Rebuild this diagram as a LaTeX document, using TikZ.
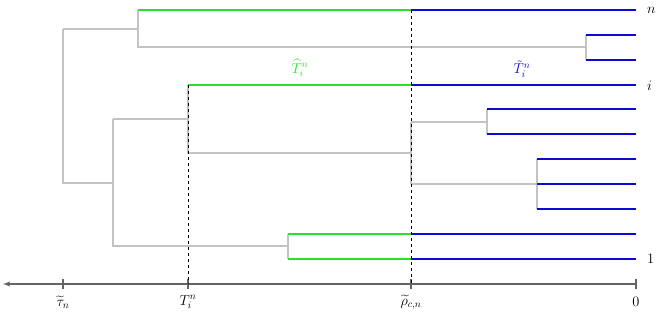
\documentclass[tikz,border=0pt]{standalone}
\usepackage{amsmath}
\definecolor{brgreen}{RGB}{40,225,40}
\definecolor{brblue}{RGB}{10,10,210}
\definecolor{brgray}{RGB}{195,195,195}
\definecolor{axgray}{RGB}{100,100,100}
\begin{document}
\begin{tikzpicture}[x=1pt,y=-1pt,
  gbr/.style={brgray,line width=1.1pt},
  grn/.style={brgreen,line width=1.5pt},
  blu/.style={brblue,line width=1.5pt},
  dsh/.style={black,dashed,line width=0.9pt},
  axis/.style={axgray,line width=1.3pt},
  lbl/.style={inner sep=0pt,font=\fontsize{14}{16}\selectfont}]
\useasboundingbox (0,0) rectangle (664,321);
% leaf ends
\foreach \nm/\yy in {Ln/10,La/35,Lb/60,Li/85,Lc/109,Ld/134,Le/159,Lf/184,Lg/209,Lh/234,Lo/259}
  {\coordinate (\nm) at (636,\yy);}
% internal coordinates
\coordinate (Sn) at (138,10);
\coordinate (Sn2) at (411,10);
\coordinate (Pab) at (586,47);
\coordinate (Sa) at (586,35);
\coordinate (Sb) at (586,60);
\coordinate (Qab) at (138,47);
\coordinate (Rn) at (138,29);
\coordinate (Root) at (63,29);
\coordinate (RootB) at (63,183);
\coordinate (J) at (113,183);
\coordinate (Si) at (188,85);
\coordinate (Si2) at (411,85);
\coordinate (Pcd) at (487,122);
\coordinate (Sc) at (487,109);
\coordinate (Sd) at (487,134);
\coordinate (Qcd) at (411,122);
\coordinate (Pefg) at (537,184);
\coordinate (Se) at (537,159);
\coordinate (Sg) at (537,209);
\coordinate (Qefg) at (411,184);
\coordinate (Qmid) at (411,153);
\coordinate (Pmid) at (188,153);
\coordinate (Ki) at (188,119);
\coordinate (Kt) at (113,119);
\coordinate (Sh) at (288,234);
\coordinate (So) at (288,259);
\coordinate (Sh2) at (411,234);
\coordinate (So2) at (411,259);
\coordinate (Pho) at (288,246);
\coordinate (Kb) at (113,246);
% gray branches
\draw[gbr] (Root) -- (RootB) -- (J);
\draw[gbr] (Root) -- (Rn);
\draw[gbr] (Sn) -- (Qab) -- (Pab);
\draw[gbr] (Sa) -- (Sb);
\draw[gbr] (Kt) -- (Kb) -- (Pho);
\draw[gbr] (Kt) -- (Ki);
\draw[gbr] (Si) -- (Pmid) -- (Qmid);
\draw[gbr] (Qcd) -- (Qefg);
\draw[gbr] (Qcd) -- (Pcd);
\draw[gbr] (Sc) -- (Sd);
\draw[gbr] (Qefg) -- (Pefg);
\draw[gbr] (Se) -- (Sg);
\draw[gbr] (Sh) -- (So);
% green parts
\draw[grn] (Sn) -- (Sn2);
\draw[grn] (Si) -- (Si2);
\draw[grn] (Sh) -- (Sh2);
\draw[grn] (So) -- (So2);
% blue parts
\draw[blu] (Sn2) -- (Ln);
\draw[blu] (Sa) -- (La);
\draw[blu] (Sb) -- (Lb);
\draw[blu] (Si2) -- (Li);
\draw[blu] (Sc) -- (Lc);
\draw[blu] (Sd) -- (Ld);
\draw[blu] (Se) -- (Le);
\draw[blu] (Pefg) -- (Lf);
\draw[blu] (Sg) -- (Lg);
\draw[blu] (Sh2) -- (Lh);
\draw[blu] (So2) -- (Lo);
% axis
\coordinate (A0) at (636,284);
\coordinate (Aend) at (3,284);
\coordinate (Arho) at (411,284);
\coordinate (AT) at (188,284);
\coordinate (Atau) at (63,284);
\draw[axis,-latex] (A0) -- (Aend);
\foreach \c in {A0,Arho,AT,Atau}
  {\draw[axis,line width=1.1pt] ([yshift=-5pt]\c) -- ([yshift=5pt]\c);}
% dashed lines
\draw[dsh] (Sn2) -- (Arho);
\draw[dsh] (Si) -- (AT);
% labels
\node[lbl] (lt) at (63,302) {$\widetilde{\tau}_n$};
\node[lbl] (lT) at (188,302) {$T_i^n$};
\node[lbl] (lr) at (411,302) {$\widetilde{\rho}_{c,n}$};
\node[lbl] (l0) at (636,302) {$0$};
\node[lbl,anchor=west] (ln) at (647,10) {$n$};
\node[lbl,anchor=west] (li) at (647,86) {$i$};
\node[lbl,anchor=west] (l1) at (647,259) {$1$};
\node[lbl,text=brgreen] (lhat) at (300,68) {$\widehat{T}_i^n$};
\node[lbl,text=brblue] (ltil) at (522,69) {$\tilde{T}_i^n$};
\end{tikzpicture}
\end{document}
